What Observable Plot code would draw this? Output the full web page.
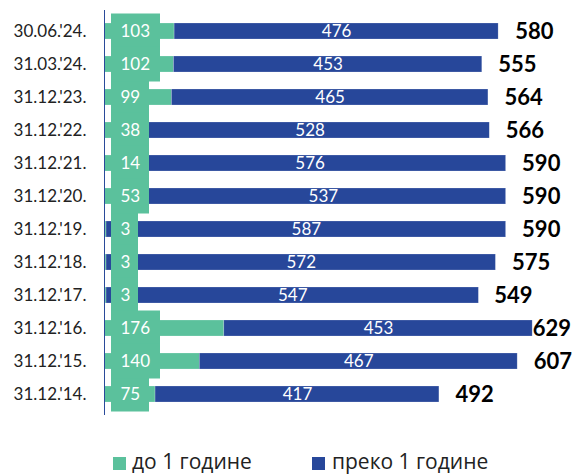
<!DOCTYPE html>
<html>
<head>
<meta charset="utf-8">
<script src="https://cdn.jsdelivr.net/npm/d3@7"></script>
<script src="https://cdn.jsdelivr.net/npm/@observablehq/plot@0.6"></script>
<style>
  html, body { margin: 0; padding: 0; background: #fff; }
  body { width: 573px; height: 475px; overflow: hidden; font-family: Lato, "Open Sans", sans-serif; }
  #legend { position: relative; height: 35px; font-family: "Open Sans", Lato, sans-serif; font-size: 21px; color: #222; }
  .sw { position: absolute; width: 13px; height: 13px; top: 17px; }
  .lt { position: absolute; top: 11px; line-height: 21px; white-space: nowrap; }
</style>
</head>
<body>
<div id="chart"></div>
<div id="legend"></div>
<script>
// ---- data (top to bottom) ----
const dates = ["30.06.'24.", "31.03.'24.", "31.12.'23.", "31.12.'22.", "31.12.'21.", "31.12.'20.",
               "31.12.'19.", "31.12.'18.", "31.12.'17.", "31.12.'16.", "31.12.'15.", "31.12.'14."];
const shortTerm = [103, 102, 99, 38, 14, 53, 3, 3, 3, 176, 140, 75];
const longTerm  = [476, 453, 465, 528, 576, 537, 587, 572, 547, 453, 467, 417];
const totals    = [580, 555, 564, 566, 590, 590, 590, 575, 549, 629, 607, 492];
const seriesNames = ["до 1 године", "преко 1 године"];
const colors = ["#5BC19C", "#27479A"];

const rows = dates.map((d, i) => ({date: d, short: shortTerm[i], long: longTerm[i], total: totals[i]}));
const stacked = rows.flatMap(r => [
  {date: r.date, series: seriesNames[0], value: r.short},
  {date: r.date, series: seriesNames[1], value: r.long}
]);

// label background boxes for the short-term labels, grouped by label length
const boxMarks = [1, 2, 3].map(n => Plot.barX(rows.filter(r => String(r.short).length === n), {
  x1: d => 0, x2: d => 0, y: "date",
  insetLeft: 7, insetRight: -(7 + 16 + 11 * n),
  insetTop: -9.5, insetBottom: -9.5,
  fill: colors[0]
}));

const fits = r => r.total <= 620;

const chart = Plot.plot({
  width: 573,
  height: 440,
  marginLeft: 104,
  marginRight: 0,
  marginTop: 10,
  marginBottom: 25,
  style: {fontFamily: "Lato, 'Open Sans', sans-serif", fontSize: "17px", color: "#222", background: "#fff"},
  x: {domain: [0, 689], axis: null},
  y: {domain: dates, paddingInner: 0.52, paddingOuter: 0.34, label: null},
  color: {domain: seriesNames, range: colors},
  marks: [
    Plot.barX(stacked, Plot.stackX({x: "value", y: "date", fill: "series", order: seriesNames, stroke: "#ffffff", strokeOpacity: 0.35, strokeWidth: 0.6})),
    Plot.ruleX([0], {stroke: "#2a4a9a", strokeWidth: 1}),
    ...boxMarks,
    Plot.text(rows, {x: d => 0, y: "date", text: "short", dx: 16, textAnchor: "start", fill: "white", fontSize: 17}),
    Plot.text(rows, {x: d => d.short + d.long / 2, y: "date", text: "long", fill: "white", fontSize: 17}),
    Plot.text(rows.filter(fits), {x: "total", y: "date", text: "total", dx: 16, textAnchor: "start", fill: "#000", fontSize: 22, fontWeight: "bold"}),
    Plot.text(rows.filter(r => !fits(r)), {x: "total", y: "date", text: "total", dx: 0, textAnchor: "start", fill: "#000", fontSize: 22, fontWeight: "bold"}),
    Plot.axisY({tickSize: 0, tickPadding: 18, fontSize: 17, fill: "#222"})
  ]
});
document.getElementById("chart").appendChild(chart);

// legend
const legend = document.getElementById("legend");
const legendPos = [[113, 132], [312, 332]];
seriesNames.forEach((name, i) => {
  const sw = document.createElement("span");
  sw.className = "sw";
  sw.style.left = legendPos[i][0] + "px";
  sw.style.background = colors[i];
  legend.appendChild(sw);
  const t = document.createElement("span");
  t.className = "lt";
  t.style.left = legendPos[i][1] + "px";
  t.textContent = name;
  legend.appendChild(t);
});
</script>
</body>
</html>
